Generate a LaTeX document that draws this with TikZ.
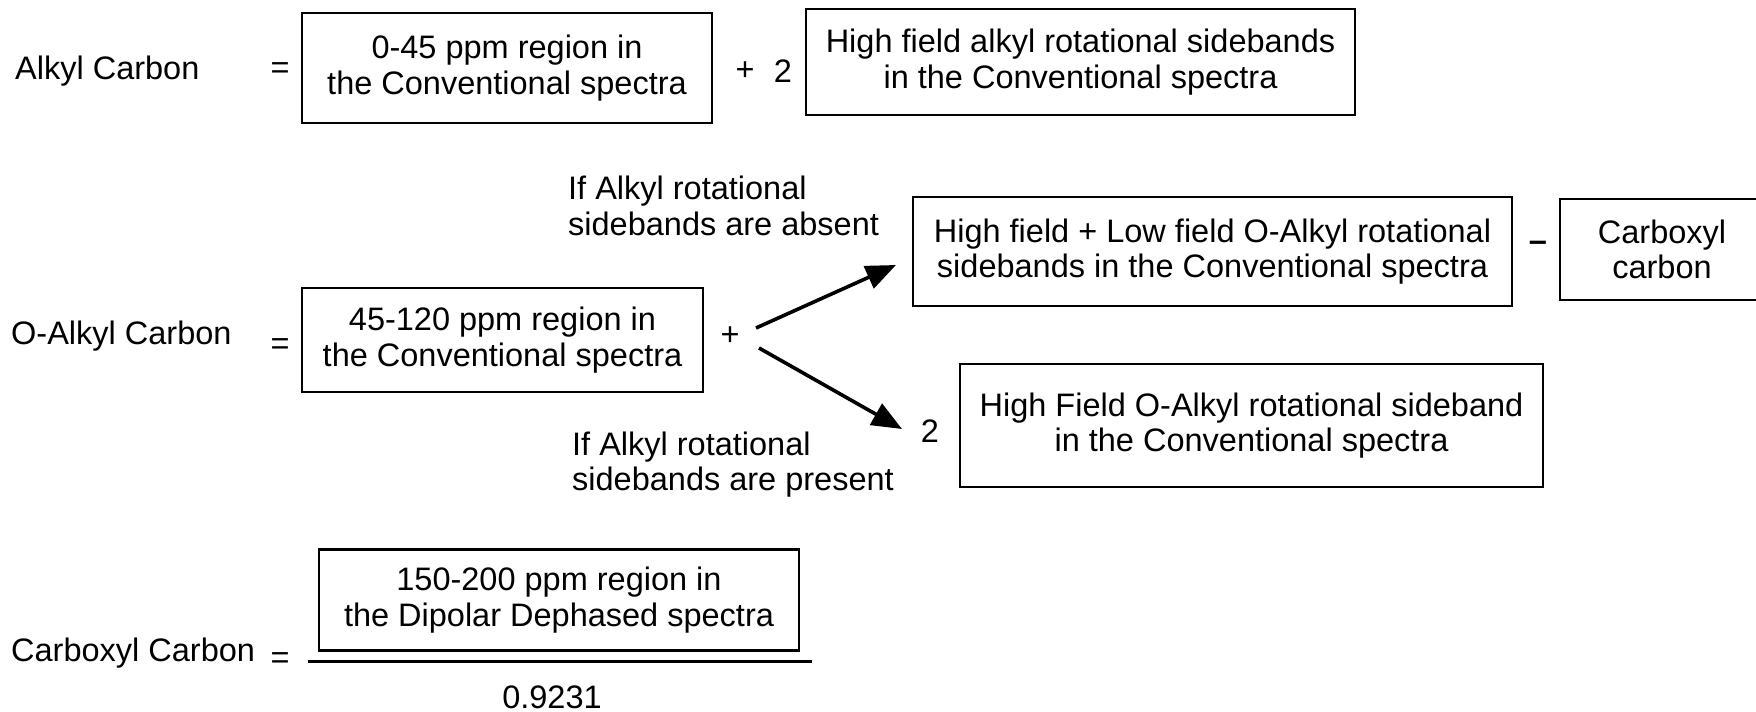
\documentclass[tikz,border=0pt]{standalone}
\usepackage{fontspec}
\setmainfont{Liberation Sans}
\usetikzlibrary{arrows.meta}
\begin{document}
\begin{tikzpicture}[x=1pt,y=-1pt,
  every node/.style={font=\fontsize{32.5}{35.5}\selectfont, inner sep=0pt},
  bx/.style={draw, line width=2.6pt, align=center},
  lbl/.style={anchor=west, align=left},
  arr/.style={line width=3.6pt, -{Triangle[length=30pt,width=24pt]}}]
\useasboundingbox (0,0) rectangle (1756,712);
% Row 1
\node[lbl] (alkyl) at (15,71) {Alkyl Carbon};
\node (eq1) at (280,71) {=};
\node[bx, minimum width=410pt, minimum height=110pt] (b1) at (507,68) {0-45 ppm region in\\the Conventional spectra};
\node (p1) at (745,71) {+};
\node (two1) at (783,71) {2};
\node[bx, minimum width=549pt, minimum height=106pt] (b2) at (1080.5,62) {High field alkyl rotational sidebands\\in the Conventional spectra};
% Row 2
\node[lbl] (absent) at (568,206) {If Alkyl rotational\\sidebands are absent};
\node[bx, minimum width=599pt, minimum height=109pt] (b3) at (1212.5,251.5) {High field + Low field O-Alkyl rotational\\sidebands in the Conventional spectra};
\node (minus) at (1538,246) {\textbf{–}};
\node[bx, minimum width=204pt, minimum height=101pt] (b4) at (1662,249.5) {Carboxyl\\carbon};
\node[lbl] (oalkyl) at (11,336) {O-Alkyl Carbon};
\node (eq2) at (280,347) {=};
\node[bx, minimum width=401pt, minimum height=104pt] (b5) at (502.5,340) {45-120 ppm region in\\the Conventional spectra};
\node (p2) at (730,336) {+};
\coordinate (a1s) at (756,328);
\coordinate (a1e) at (896,265);
\coordinate (a2s) at (759,348);
\coordinate (a2e) at (902,429);
\draw[arr] (a1s) -- (a1e);
\draw[arr] (a2s) -- (a2e);
\node (two2) at (930,431) {2};
\node[bx, minimum width=583pt, minimum height=123pt] (b6) at (1251.5,425.5) {High Field O-Alkyl rotational sideband\\in the Conventional spectra};
\node[lbl] (present) at (572,464.5) {If Alkyl rotational\\sidebands are present};
% Row 3
\node[lbl] (carbox) at (11,653) {Carboxyl Carbon};
\node (eq3) at (280,661) {=};
\node[bx, minimum width=480pt, minimum height=101pt] (b7) at (559,600) {150-200 ppm region in\\the Dipolar Dephased spectra};
\coordinate (fl) at (308,661);
\coordinate (fr) at (812,661);
\draw[line width=3pt] (fl) -- (fr);
\node (den) at (552,697) {0.9231};
\end{tikzpicture}
\end{document}
